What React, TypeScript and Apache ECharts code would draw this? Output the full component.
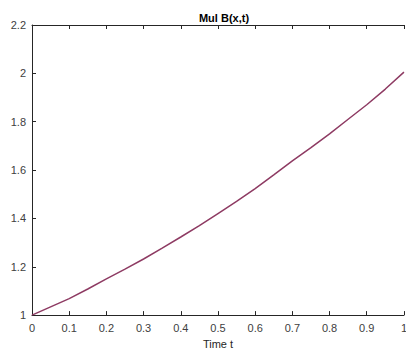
import React, { useEffect, useRef } from "react";
import * as echarts from "echarts";

const timeT = [0, 0.05, 0.1, 0.15, 0.2, 0.25, 0.3, 0.35, 0.4, 0.45, 0.5, 0.55, 0.6, 0.65, 0.7, 0.75, 0.8, 0.85, 0.9, 0.95, 1.0];
const mulB = [1.0, 1.034, 1.068, 1.108, 1.15, 1.19, 1.232, 1.277, 1.323, 1.37, 1.42, 1.47, 1.523, 1.58, 1.638, 1.693, 1.75, 1.81, 1.87, 1.935, 2.005];
const titleText = "Mul B(x,t)";
const xName = "Time t";

export default function App() {
  const ref = useRef<HTMLDivElement>(null);
  useEffect(() => {
    if (!ref.current) return;
    const chart = echarts.init(ref.current, null, { renderer: "svg" });
    const axisColor = "#262626";
    const font = "Liberation Sans, Arial, Helvetica, sans-serif";
    chart.setOption({
      animation: false,
      backgroundColor: "#ffffff",
      title: {
        text: titleText,
        left: 219,
        textAlign: "center",
        top: 7,
        textStyle: { fontSize: 11, fontWeight: "bold", color: "#000", fontFamily: font },
      },
      grid: { left: 32, right: 3.5, top: 25, bottom: 33, containLabel: false, show: false },
      xAxis: [
        {
          type: "value",
          min: 0,
          max: 1,
          interval: 0.1,
          position: "bottom",
          name: xName,
          nameLocation: "middle",
          nameGap: 22,
          nameTextStyle: { fontSize: 11, color: axisColor, fontFamily: font },
          axisLine: { show: true, onZero: false, lineStyle: { color: axisColor, width: 1 } },
          axisTick: { show: true, inside: true, length: 4, lineStyle: { color: axisColor } },
          axisLabel: { fontSize: 11, color: "#404040", margin: 7, fontFamily: font, formatter: (v: number) => String(+v.toFixed(1)) },
          splitLine: { show: false },
        },
        {
          type: "value",
          min: 0,
          max: 1,
          interval: 0.1,
          position: "top",
          axisLine: { show: true, onZero: false, lineStyle: { color: axisColor, width: 1 } },
          axisTick: { show: true, inside: true, length: 4, lineStyle: { color: axisColor } },
          axisLabel: { show: false },
          splitLine: { show: false },
        },
      ],
      yAxis: [
        {
          type: "value",
          min: 1,
          max: 2.2,
          interval: 0.2,
          position: "left",
          axisLine: { show: true, onZero: false, lineStyle: { color: axisColor, width: 1 } },
          axisTick: { show: true, inside: true, length: 4, lineStyle: { color: axisColor } },
          axisLabel: { fontSize: 11, color: "#404040", margin: 6, fontFamily: font, formatter: (v: number) => String(+v.toFixed(1)) },
          splitLine: { show: false },
        },
      ],
      series: [
        {
          type: "line",
          xAxisIndex: 0,
          yAxisIndex: 0,
          data: timeT.map((t, i) => [t, mulB[i]]),
          showSymbol: false,
          lineStyle: { color: "#8e3b63", width: 1.5 },
          itemStyle: { color: "#8e3b63" },
        },
      ],
    });
    return () => chart.dispose();
  }, []);
  return (
    <div
      ref={ref}
      style={{ position: "fixed", left: 0, top: 0, width: 410, height: 354 }}
    />
  );
}
